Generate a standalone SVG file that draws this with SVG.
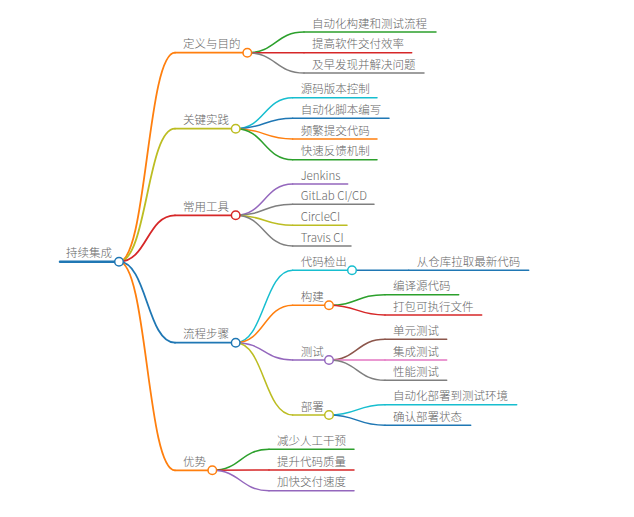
<svg xmlns="http://www.w3.org/2000/svg" width="634" height="517" viewBox="0 0 634 517">
<style>
text{font-family:"Noto Sans CJK SC","Noto Sans",sans-serif;font-size:11.5px;fill:#666;font-weight:300;}
path,line{fill:none;stroke-linecap:round;}
.c{fill:#fff;stroke-width:1.5;}
.l1{stroke-width:1.8;}
.l2{stroke-width:1.5;}
.blue{stroke:#1f77b4}.orange{stroke:#ff7f0e}.green{stroke:#2ca02c}.red{stroke:#d62728}.purple{stroke:#9467bd}.brown{stroke:#8c564b}.pink{stroke:#e377c2}.grey{stroke:#7f7f7f}.olive{stroke:#bcbd22}.cyan{stroke:#17becf}
</style>
<rect width="634" height="517" fill="#fff"/>
<g id="connectors">
<path class="l1 orange" d="M119,261.7 C147,261.7 147,52.7 175,52.7"/>
<path class="l1 olive" d="M119,261.7 C147,261.7 147,128.7 175,128.7"/>
<path class="l1 red" d="M119,261.7 C147,261.7 147,215.3 175,215.3"/>
<path class="l1 blue" d="M119,261.7 C147,261.7 147,342.7 175,342.7"/>
<path class="l1 orange" d="M119,261.7 C147,261.7 147,470.3 175,470.3"/>
<path class="l2 green" d="M247.3,52.7 C275.7,52.7 275.7,32 304,32"/>
<path class="l2 red" d="M247.3,52.7 L304,52.7"/>
<path class="l2 grey" d="M247.3,52.7 C275.7,52.7 275.7,73 304,73"/>
<path class="l2 cyan" d="M235.7,128.7 C264.2,128.7 264.2,97.7 292.7,97.7"/>
<path class="l2 blue" d="M235.7,128.7 C264.2,128.7 264.2,118.3 292.7,118.3"/>
<path class="l2 orange" d="M235.7,128.7 C264.2,128.7 264.2,139 292.7,139"/>
<path class="l2 green" d="M235.7,128.7 C264.2,128.7 264.2,159.7 292.7,159.7"/>
<path class="l2 purple" d="M235.7,215.3 C264.2,215.3 264.2,184 292.7,184"/>
<path class="l2 grey" d="M235.7,215.3 C264.2,215.3 264.2,204.3 292.7,204.3"/>
<path class="l2 olive" d="M235.7,215.3 C264.2,215.3 264.2,225.3 292.7,225.3"/>
<path class="l2 grey" d="M235.7,215.3 C264.2,215.3 264.2,246 292.7,246"/>
<path class="l2 cyan" d="M235.7,342.7 C264.2,342.7 264.2,270.3 292.7,270.3"/>
<path class="l2 orange" d="M235.7,342.7 C264.2,342.7 264.2,305.3 292.7,305.3"/>
<path class="l2 purple" d="M235.7,342.7 C264.2,342.7 264.2,360 292.7,360"/>
<path class="l2 olive" d="M235.7,342.7 C264.2,342.7 264.2,415 292.7,415"/>
<path class="l2 blue" d="M352,270.3 L408.7,270.3"/>
<path class="l2 green" d="M329,305.3 C357,305.3 357,294.7 385,294.7"/>
<path class="l2 red" d="M329,305.3 C357,305.3 357,315 385,315"/>
<path class="l2 brown" d="M329,360 C357,360 357,339.3 385,339.3"/>
<path class="l2 pink" d="M329,360 L385,360"/>
<path class="l2 grey" d="M329,360 C357,360 357,380.3 385,380.3"/>
<path class="l2 cyan" d="M329,415 C357,415 357,404.7 385,404.7"/>
<path class="l2 blue" d="M329,415 C357,415 357,425.3 385,425.3"/>
<path class="l2 green" d="M212.3,470.3 C240.6,470.3 240.6,449.3 269,449.3"/>
<path class="l2 red" d="M212.3,470.3 L269,470"/>
<path class="l2 purple" d="M212.3,470.3 C240.6,470.3 240.6,490.7 269,490.7"/>
</g>
<g id="root"><line class="blue" stroke-width="2.5" x1="60" y1="261.7" x2="119" y2="261.7"/><text x="66" y="257">持续集成</text><circle class="c blue" cx="119" cy="261.7" r="4.3"/></g>
<g id="n-def"><line class="l1 orange" x1="175" y1="52.7" x2="247.3" y2="52.7"/><text x="183" y="48">定义与目的</text><circle class="c orange" cx="247.3" cy="52.7" r="4.3"/></g>
<g id="n-def-1"><line class="l2 green" x1="304" y1="32" x2="436" y2="32"/><text x="312" y="27.5">自动化构建和测试流程</text></g>
<g id="n-def-2"><line class="l2 red" x1="304" y1="52.7" x2="411.7" y2="52.7"/><text x="312" y="48.2">提高软件交付效率</text></g>
<g id="n-def-3"><line class="l2 grey" x1="304" y1="73" x2="424" y2="73"/><text x="312" y="68.5">及早发现并解决问题</text></g>
<g id="n-prac"><line class="l1 olive" x1="175" y1="128.7" x2="235.7" y2="128.7"/><text x="183" y="124">关键实践</text><circle class="c olive" cx="235.7" cy="128.7" r="4.3"/></g>
<g id="n-prac-1"><line class="l2 cyan" x1="292.7" y1="97.7" x2="377" y2="97.7"/><text x="300.7" y="93.2">源码版本控制</text></g>
<g id="n-prac-2"><line class="l2 blue" x1="292.7" y1="118.3" x2="389" y2="118.3"/><text x="300.7" y="113.8">自动化脚本编写</text></g>
<g id="n-prac-3"><line class="l2 orange" x1="292.7" y1="139" x2="377" y2="139"/><text x="300.7" y="134.5">频繁提交代码</text></g>
<g id="n-prac-4"><line class="l2 green" x1="292.7" y1="159.7" x2="377" y2="159.7"/><text x="300.7" y="155.2">快速反馈机制</text></g>
<g id="n-tools"><line class="l1 red" x1="175" y1="215.3" x2="235.7" y2="215.3"/><text x="183" y="210.7">常用工具</text><circle class="c red" cx="235.7" cy="215.3" r="4.3"/></g>
<g id="n-tools-1"><line class="l2 purple" x1="292.7" y1="184" x2="347.7" y2="184"/><text x="300.7" y="179.5">Jenkins</text></g>
<g id="n-tools-2"><line class="l2 grey" x1="292.7" y1="204.3" x2="374" y2="204.3"/><text x="300.7" y="199.8">GitLab CI/CD</text></g>
<g id="n-tools-3"><line class="l2 olive" x1="292.7" y1="225.3" x2="347" y2="225.3"/><text x="300.7" y="220.8">CircleCI</text></g>
<g id="n-tools-4"><line class="l2 grey" x1="292.7" y1="246" x2="351" y2="246"/><text x="300.7" y="241.5">Travis CI</text></g>
<g id="n-flow"><line class="l1 blue" x1="175" y1="342.7" x2="235.7" y2="342.7"/><text x="183" y="338">流程步骤</text><circle class="c blue" cx="235.7" cy="342.7" r="4.3"/></g>
<g id="n-checkout"><line class="l2 cyan" x1="292.7" y1="270.3" x2="352" y2="270.3"/><text x="300.7" y="265.8">代码检出</text><circle class="c cyan" cx="352" cy="270.3" r="4.3"/></g>
<g id="n-checkout-1"><line class="l2 blue" x1="408.7" y1="270.3" x2="528.7" y2="270.3"/><text x="416.7" y="265.8">从仓库拉取最新代码</text></g>
<g id="n-build"><line class="l2 orange" x1="292.7" y1="305.3" x2="329" y2="305.3"/><text x="300.7" y="300.8">构建</text><circle class="c orange" cx="329" cy="305.3" r="4.3"/></g>
<g id="n-build-1"><line class="l2 green" x1="385" y1="294.7" x2="458.7" y2="294.7"/><text x="393" y="290.2">编译源代码</text></g>
<g id="n-build-2"><line class="l2 red" x1="385" y1="315" x2="481.7" y2="315"/><text x="393" y="310.5">打包可执行文件</text></g>
<g id="n-test"><line class="l2 purple" x1="292.7" y1="360" x2="329" y2="360"/><text x="300.7" y="355.5">测试</text><circle class="c purple" cx="329" cy="360" r="4.3"/></g>
<g id="n-test-1"><line class="l2 brown" x1="385" y1="339.3" x2="446.7" y2="339.3"/><text x="393" y="334.8">单元测试</text></g>
<g id="n-test-2"><line class="l2 pink" x1="385" y1="360" x2="446.7" y2="360"/><text x="393" y="355.5">集成测试</text></g>
<g id="n-test-3"><line class="l2 grey" x1="385" y1="380.3" x2="446.7" y2="380.3"/><text x="393" y="375.8">性能测试</text></g>
<g id="n-deploy"><line class="l2 olive" x1="292.7" y1="415" x2="329" y2="415"/><text x="300.7" y="410.5">部署</text><circle class="c olive" cx="329" cy="415" r="4.3"/></g>
<g id="n-deploy-1"><line class="l2 cyan" x1="385" y1="404.7" x2="516.7" y2="404.7"/><text x="393" y="400.2">自动化部署到测试环境</text></g>
<g id="n-deploy-2"><line class="l2 blue" x1="385" y1="425.3" x2="470.7" y2="425.3"/><text x="393" y="420.8">确认部署状态</text></g>
<g id="n-adv"><line class="l1 orange" x1="175" y1="470.3" x2="212.3" y2="470.3"/><text x="183" y="465.7">优势</text><circle class="c orange" cx="212.3" cy="470.3" r="4.3"/></g>
<g id="n-adv-1"><line class="l2 green" x1="269" y1="449.3" x2="354" y2="449.3"/><text x="277" y="444.8">减少人工干预</text></g>
<g id="n-adv-2"><line class="l2 red" x1="269" y1="470" x2="354" y2="470"/><text x="277" y="465.5">提升代码质量</text></g>
<g id="n-adv-3"><line class="l2 purple" x1="269" y1="490.7" x2="354" y2="490.7"/><text x="277" y="486.2">加快交付速度</text></g>
</svg>
